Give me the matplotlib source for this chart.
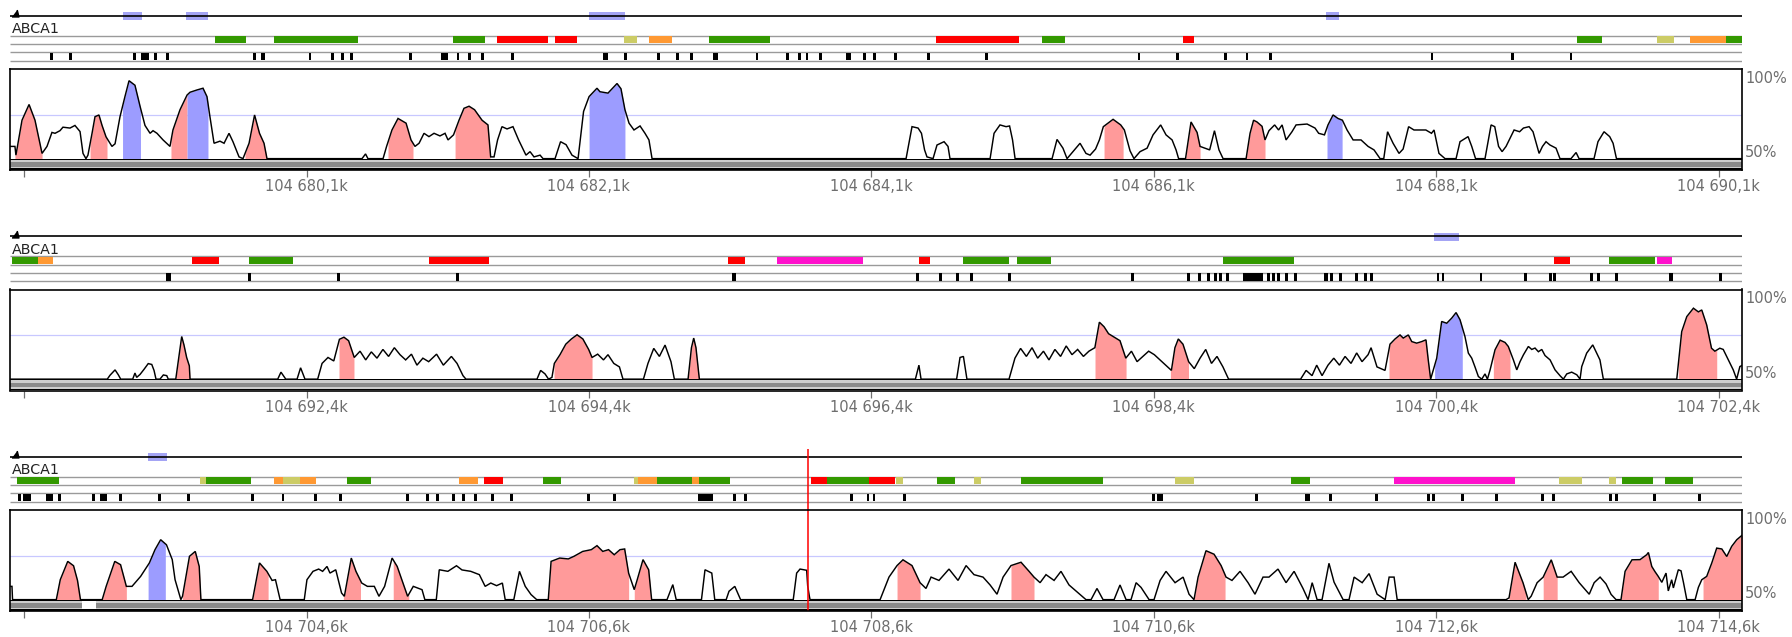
import numpy as np
import matplotlib
matplotlib.use("Agg")
import matplotlib.pyplot as plt
import matplotlib.transforms as mtransforms
from matplotlib.patches import Rectangle

plt.rcParams['font.family'] = ['DejaVu Sans']

FIG_W, FIG_H, DPI = 1792, 637, 100

# ---------------------------------------------------------------- data
gene_name = "ABCA1"
window_starts = [678.0, 690.3, 702.5]      # kb on chr (104 Mb prefix in labels)
window_span = 12.266
tick_starts = [678.1, 690.4, 702.6]
tick_step = 2.0
n_ticks = 7

# conservation profiles (position kb, % identity)
p1_profile = [
    (678.000, 57), (678.035, 57), (678.042, 52), (678.085, 72), (678.135, 81), (678.177, 72),
    (678.227, 53), (678.262, 57), (678.297, 65), (678.319, 64.5), (678.354, 66), (678.375, 68),
    (678.425, 67.5), (678.460, 69), (678.496, 65.5), (678.517, 53), (678.538, 50), (678.552, 52),
    (678.581, 64.5), (678.602, 74), (678.630, 75), (678.652, 69), (678.680, 62.5), (678.722, 57),
    (678.744, 58.5), (678.779, 74), (678.814, 85.5), (678.843, 94.6), (678.885, 92), (678.921, 80),
    (678.956, 69), (678.992, 64.5), (679.013, 66), (679.041, 64.5), (679.084, 60.7), (679.133, 57),
    (679.154, 66.4), (679.204, 78), (679.254, 86.4), (679.275, 88), (679.324, 89.3), (679.367, 90.3),
    (679.395, 85.5), (679.416, 74), (679.445, 58.8), (679.487, 60), (679.516, 58.8), (679.551, 64.5),
    (679.579, 59.7), (679.622, 51), (679.650, 50), (679.693, 58.8), (679.732, 75), (679.767, 64.5),
    (679.799, 58.8), (679.820, 50),
    (680.493, 50), (680.518, 52.7), (680.535, 50), (680.642, 50), (680.667, 57), (680.705, 66.4),
    (680.748, 73), (680.805, 70.3), (680.840, 60.7), (680.868, 57), (680.897, 58.8), (680.932, 64.5),
    (680.967, 62.6), (681.003, 64.5), (681.045, 63), (681.081, 64.5), (681.102, 60.7), (681.141, 63.6),
    (681.180, 72), (681.215, 78.8), (681.251, 80), (681.290, 78), (681.343, 72), (681.385, 69.3),
    (681.404, 51), (681.428, 51), (681.453, 60.7), (681.484, 68.3), (681.520, 67), (681.562, 68.3),
    (681.602, 60.7), (681.654, 52), (681.683, 54), (681.711, 51), (681.754, 52), (681.775, 50),
    (681.860, 50), (681.899, 59.7), (681.938, 58), (681.980, 52), (682.023, 50), (682.062, 77),
    (682.101, 85.5), (682.157, 90.3), (682.178, 88.3), (682.235, 87.5), (682.299, 93), (682.327, 90),
    (682.355, 78), (682.384, 70.3), (682.419, 66.4), (682.462, 68.7), (682.497, 64.5), (682.525, 60.7),
    (682.547, 50),
    (684.346, 50), (684.388, 68.3), (684.431, 67.5), (684.455, 64.5), (684.477, 55), (684.494, 51),
    (684.537, 50), (684.565, 57.8), (684.615, 59.7), (684.643, 57), (684.657, 50),
    (684.941, 50), (684.969, 64.5), (685.011, 69.3), (685.054, 68.3), (685.079, 68.7), (685.100, 60.7),
    (685.118, 50),
    (685.380, 50), (685.415, 61), (685.457, 56), (685.486, 50), (685.514, 52.7), (685.578, 58.8),
    (685.620, 53), (685.649, 52), (685.688, 55.5), (685.715, 60.7), (685.743, 68.3), (685.812, 72.5),
    (685.866, 69.3), (685.892, 66.4), (685.932, 54.5), (685.960, 50), (686.003, 54), (686.053, 56),
    (686.095, 63.6), (686.149, 69.3), (686.187, 63.6), (686.230, 60.7), (686.258, 55), (686.276, 50),
    (686.325, 50), (686.364, 71), (686.407, 65), (686.428, 57), (686.496, 55), (686.530, 66),
    (686.562, 55), (686.591, 50),
    (686.754, 50), (686.782, 64.5), (686.807, 72), (686.831, 71), (686.867, 68.5), (686.888, 60.7),
    (686.916, 66), (686.956, 69.3), (686.984, 66.4), (687.009, 69.3), (687.037, 60.7), (687.079, 65.4),
    (687.108, 69.3), (687.186, 69.8), (687.242, 67.5), (687.268, 64.5), (687.309, 63.6), (687.334, 69.3),
    (687.370, 75), (687.405, 73), (687.436, 72), (687.469, 66.4), (687.512, 60.7), (687.568, 60.7),
    (687.618, 57), (687.660, 55), (687.703, 50), (687.729, 50), (687.756, 65.4), (687.795, 58.8),
    (687.837, 53), (687.866, 55.5), (687.905, 68.3), (687.943, 66.4), (688.027, 66.4), (688.067, 64.5),
    (688.085, 66.4), (688.120, 53), (688.163, 50),
    (688.241, 50), (688.269, 59.7), (688.326, 62.6), (688.352, 57), (688.379, 50),
    (688.446, 50), (688.489, 69.3), (688.515, 68.3), (688.542, 57), (688.567, 54), (688.595, 57),
    (688.652, 66.4), (688.691, 65.4), (688.718, 67.5), (688.758, 68.3), (688.786, 65.4), (688.829, 53),
    (688.853, 57), (688.878, 59.7), (688.906, 57.8), (688.949, 56), (688.977, 50),
    (689.055, 50), (689.091, 53.5), (689.112, 50), (689.218, 50), (689.246, 59.7), (689.289, 65.4),
    (689.329, 62.6), (689.353, 58.8), (689.377, 50), (690.270, 50),
]

p2_profile = [
    (690.300, 50), (690.989, 50), (691.008, 52.2), (691.044, 55.3), (691.067, 52.5), (691.084, 50),
    (691.169, 50), (691.185, 53.5), (691.197, 51), (691.221, 52.7), (691.249, 55.6), (691.279, 58.9),
    (691.304, 58.4), (691.320, 55), (691.334, 50),
    (691.362, 50), (691.386, 52.4), (691.410, 52), (691.421, 50),
    (691.474, 50), (691.492, 60.6), (691.516, 74.4), (691.532, 69.6), (691.551, 62.4), (691.570, 57.6),
    (691.575, 50),
    (692.196, 50), (692.219, 54), (692.253, 50),
    (692.333, 50), (692.358, 56.5), (692.389, 50),
    (692.479, 50), (692.510, 59), (692.552, 62.4), (692.593, 60.4), (692.633, 72.8), (692.665, 74),
    (692.698, 72), (692.738, 62.4), (692.779, 66), (692.819, 61), (692.859, 65.6), (692.899, 62),
    (692.941, 67), (692.981, 63), (693.022, 68), (693.062, 64), (693.102, 61), (693.143, 64.3),
    (693.182, 58), (693.224, 62), (693.265, 60), (693.321, 64.3), (693.369, 58), (693.426, 63),
    (693.466, 59), (693.508, 52), (693.529, 50),
    (694.032, 50), (694.058, 55), (694.089, 53), (694.114, 50), (694.138, 51), (694.155, 59),
    (694.195, 64), (694.236, 70), (694.276, 73), (694.316, 75.4), (694.357, 73), (694.398, 67),
    (694.422, 62.4), (694.462, 64.3), (694.503, 61), (694.535, 64), (694.576, 59), (694.616, 57),
    (694.641, 50),
    (694.786, 50), (694.818, 59), (694.859, 67.6), (694.899, 63), (694.939, 69.5), (694.981, 60),
    (695.005, 50),
    (695.102, 50), (695.126, 68), (695.142, 73.5), (695.158, 68), (695.182, 50),
    (696.712, 50), (696.737, 58), (696.752, 50),
    (697.004, 50), (697.028, 62.4), (697.052, 63), (697.077, 50),
    (697.375, 50), (697.417, 62), (697.457, 67.6), (697.498, 63), (697.538, 68), (697.578, 62),
    (697.619, 66), (697.658, 61), (697.700, 67), (697.740, 63), (697.780, 69), (697.821, 64),
    (697.861, 67), (697.902, 63), (697.941, 66), (697.983, 68), (698.015, 82.6), (698.048, 80),
    (698.080, 76), (698.121, 74), (698.161, 72), (698.202, 62), (698.242, 66), (698.282, 60),
    (698.323, 63), (698.364, 66), (698.404, 64), (698.444, 61), (698.485, 58), (698.525, 55),
    (698.550, 68), (698.574, 73), (698.607, 70), (698.647, 60), (698.687, 56), (698.728, 62),
    (698.768, 67), (698.809, 59), (698.848, 63), (698.890, 57), (698.930, 50),
    (699.440, 50), (699.479, 55), (699.521, 52), (699.554, 58), (699.592, 52), (699.634, 58),
    (699.675, 62), (699.715, 58), (699.755, 63), (699.797, 59), (699.837, 65), (699.875, 60),
    (699.918, 64), (699.939, 68), (699.981, 57), (700.038, 55), (700.073, 70), (700.109, 73),
    (700.144, 75.3), (700.167, 73.5), (700.203, 75.3), (700.227, 71.5), (700.262, 70.6),
    (700.298, 71.5), (700.328, 72.5), (700.344, 61), (700.361, 50), (700.380, 55.3), (700.404, 62),
    (700.439, 83), (700.475, 82), (700.510, 84.9), (700.541, 88.1), (700.569, 84), (700.604, 74.4),
    (700.628, 64.9), (700.652, 62), (700.675, 57), (700.699, 51.5), (700.723, 50), (700.746, 53),
    (700.763, 50), (700.782, 55.3), (700.817, 66.8), (700.853, 72.3), (700.888, 71), (700.911, 68.7),
    (700.947, 61), (700.971, 55.3), (700.994, 60), (701.018, 63.9), (701.053, 68.7), (701.077, 67),
    (701.100, 67.8), (701.124, 65.7), (701.148, 67), (701.171, 63.5), (701.207, 61), (701.242, 55.3),
    (701.278, 51.9), (701.301, 50), (701.325, 53), (701.360, 54), (701.396, 52.5), (701.419, 50),
    (701.431, 57.2), (701.466, 64.9), (701.509, 69.6), (701.537, 64.9), (701.560, 61), (701.584, 50),
    (702.104, 50), (702.139, 77.2), (702.175, 85.8), (702.222, 90.6), (702.257, 88.5), (702.281, 89.6),
    (702.316, 81), (702.350, 67.7), (702.374, 66), (702.409, 67.7), (702.433, 67), (702.469, 61),
    (702.504, 55.3), (702.528, 50), (702.551, 57.2), (702.570, 58),
]

p3_profile = [
    (702.502, 57.6), (702.514, 57.6), (702.518, 50), (702.828, 50), (702.856, 61.4), (702.909, 71.9),
    (702.950, 69.4), (702.978, 61), (702.999, 50),
    (703.153, 50), (703.181, 57.6), (703.242, 71.9), (703.283, 70), (703.324, 57.6), (703.364, 57.6),
    (703.425, 63.3), (703.487, 71), (703.527, 78.6), (703.567, 84.3), (703.608, 81.4), (703.649, 72.9),
    (703.669, 61.4), (703.710, 50), (703.722, 52), (703.771, 74.8), (703.812, 77.6), (703.840, 69),
    (703.852, 50),
    (704.218, 50), (704.267, 71), (704.319, 66.2), (704.356, 61), (704.380, 61.4), (704.413, 50),
    (704.584, 50), (704.603, 61.4), (704.646, 66.2), (704.686, 67.5), (704.714, 66.2), (704.745, 69),
    (704.766, 65.2), (704.807, 67.1), (704.848, 53.8), (704.868, 51.9), (704.917, 73.8), (704.950, 66.2),
    (704.991, 59.5), (705.031, 57.6), (705.080, 57.6), (705.113, 51.9), (705.153, 57.6), (705.206, 73.8),
    (705.242, 69), (705.275, 61.4), (705.316, 51.9), (705.356, 57.6), (705.418, 55.7), (705.438, 50),
    (705.519, 50), (705.540, 67.1), (705.601, 66.2), (705.662, 69.4), (705.701, 67), (705.763, 66.2),
    (705.824, 64.3), (705.865, 57.6), (705.905, 59.5), (705.946, 58), (705.987, 59.5), (706.007, 50),
    (706.068, 50), (706.108, 66.2), (706.149, 57.6), (706.190, 52.9), (706.230, 50),
    (706.312, 50), (706.332, 71.9), (706.393, 73.8), (706.454, 73.3), (706.494, 74.8), (706.556, 77.6),
    (706.617, 78.6), (706.657, 80.9), (706.698, 77.6), (706.739, 78.6), (706.779, 75.7), (706.820, 78.6),
    (706.853, 79), (706.881, 65.2), (706.921, 55.7), (706.942, 61.4), (706.983, 72.9), (707.023, 67.1),
    (707.044, 50),
    (707.153, 50), (707.194, 58.6), (707.218, 50),
    (707.397, 50), (707.422, 67.1), (707.470, 65.2), (707.491, 50),
    (707.572, 50), (707.592, 54.8), (707.633, 57.6), (707.674, 50),
    (708.047, 50), (708.071, 65.2), (708.095, 67.5), (708.142, 66.8), (708.149, 58), (708.161, 52),
    (708.166, 50),
    (708.662, 50), (708.725, 62.9), (708.782, 69.5), (708.824, 72.8), (708.888, 69.5), (708.945, 59.7),
    (708.987, 56.4), (709.023, 62.9), (709.079, 61), (709.150, 67.5), (709.214, 61), (709.271, 69.5),
    (709.327, 64.3), (709.391, 62.9), (709.441, 58.4), (709.490, 53.1), (709.533, 62.9), (709.589, 69.5),
    (709.660, 71.4), (709.717, 66.2), (709.752, 62.9), (709.795, 59.7), (709.837, 64.3), (709.894, 61),
    (709.943, 66.2), (710.000, 58.4), (710.057, 54.4), (710.120, 50), (710.156, 50), (710.198, 56.4),
    (710.241, 50), (710.319, 50), (710.361, 58.4), (710.404, 50), (710.439, 50), (710.475, 59.7),
    (710.510, 57), (710.567, 50), (710.602, 50), (710.645, 61), (710.687, 66.2), (710.751, 59.7),
    (710.808, 62.9), (710.850, 53.1), (710.885, 50), (710.914, 62.9), (710.970, 78), (711.027, 76),
    (711.077, 69.5), (711.112, 62.9), (711.154, 61), (711.211, 66.2), (711.268, 59.7), (711.317, 53.1),
    (711.374, 62.9), (711.416, 62.9), (711.480, 67.5), (711.537, 59.7), (711.594, 66.2), (711.657, 56.4),
    (711.693, 50), (711.722, 59.7), (711.757, 50), (711.792, 50), (711.841, 70.8), (711.877, 60),
    (711.913, 54.4), (711.941, 50), (711.983, 50), (712.019, 62.9), (712.076, 59.7), (712.125, 64.9),
    (712.182, 53.1), (712.239, 50), (712.267, 62.9), (712.302, 62.9), (712.324, 50),
    (713.095, 50), (713.116, 51), (713.159, 71.4), (713.215, 59.7), (713.252, 50), (713.273, 52),
    (713.315, 59.7), (713.358, 62.9), (713.415, 72.8), (713.457, 62.9), (713.499, 62.9), (713.556, 66.2),
    (713.613, 59.7), (713.684, 53.1), (713.719, 59.7), (713.761, 62.9), (713.803, 59), (713.839, 53),
    (713.874, 50), (713.909, 50), (713.938, 66.2), (713.987, 72.8), (714.044, 72.9), (714.091, 75.7),
    (714.103, 77), (714.127, 69), (714.150, 66), (714.173, 63.3), (714.198, 59.9), (714.228, 65.2),
    (714.244, 55), (714.268, 61.4), (714.280, 56.7), (714.315, 67.1), (714.334, 66.5), (714.351, 60),
    (714.375, 50), (714.434, 50), (714.457, 57), (714.481, 61.4), (714.516, 63.3), (714.552, 71),
    (714.587, 79.5), (714.623, 79), (714.658, 74.7), (714.693, 80.5), (714.729, 84.3), (714.770, 87.1),
]

# conserved non-coding (pink) and coding (blue) segments
cns_regions = [
    (678.035, 678.227), (678.567, 678.687), (679.140, 679.254), (679.664, 679.820), (680.677, 680.854),
    (681.152, 681.399), (685.748, 685.883), (686.314, 686.428), (686.754, 686.888),
    (691.474, 691.575), (692.630, 692.736), (694.153, 694.422), (695.102, 695.182), (697.984, 698.204),
    (698.518, 698.646), (700.066, 700.361), (700.805, 700.923), (702.115, 702.387),
    (702.828, 702.999), (703.153, 703.324), (703.722, 703.852), (704.218, 704.328), (704.861, 704.982),
    (705.214, 705.324), (706.312, 706.881), (706.921, 707.035), (708.782, 708.945), (709.589, 709.752),
    (710.885, 711.105), (713.116, 713.236), (713.358, 713.457), (713.909, 714.173), (714.490, 714.770),
]
coding_regions = [
    (678.797, 678.924), (679.254, 679.402), (682.101, 682.355), (687.327, 687.434),
    (700.389, 700.585), (703.478, 703.600),
]

# exons on the gene model line
gene_exons = [
    (678.800, 678.935), (679.249, 679.401), (682.101, 682.355), (687.317, 687.409),
    (700.382, 700.559), (703.479, 703.610),
]

# regulatory annotation boxes: (start, end, class)
feature_boxes = [
    (679.455, 679.669, 'g'), (679.867, 680.463, 'g'), (681.135, 681.363, 'g'), (681.447, 681.813, 'r'),
    (681.859, 682.016, 'r'), (682.349, 682.441, 'y'), (682.526, 682.689, 'o'), (682.950, 683.385, 'g'),
    (684.558, 685.144, 'r'), (685.309, 685.472, 'g'), (686.304, 686.385, 'r'), (689.098, 689.275, 'g'),
    (689.667, 689.787, 'y'), (689.898, 690.153, 'o'), (690.153, 690.263, 'g'),
    (690.312, 690.500, 'g'), (690.500, 690.607, 'o'), (691.589, 691.780, 'r'), (691.993, 692.301, 'g'),
    (693.265, 693.692, 'r'), (695.385, 695.505, 'r'), (695.732, 696.341, 'm'), (696.738, 696.816, 'r'),
    (697.049, 697.375, 'g'), (697.432, 697.673, 'g'), (698.891, 699.394, 'g'), (701.235, 701.348, 'r'),
    (701.624, 701.950, 'g'), (701.964, 702.071, 'm'),
    (702.551, 702.848, 'g'), (703.844, 703.885, 'y'), (703.885, 704.210, 'g'), (704.368, 704.433, 'o'),
    (704.433, 704.552, 'y'), (704.552, 704.665, 'o'), (704.889, 705.060, 'g'), (705.681, 705.812, 'o'),
    (705.857, 705.991, 'r'), (706.275, 706.402, 'g'), (706.921, 706.950, 'y'), (706.950, 707.084, 'o'),
    (707.084, 707.328, 'g'), (707.328, 707.381, 'o'), (707.381, 707.601, 'g'), (708.174, 708.283, 'r'),
    (708.283, 708.581, 'g'), (708.581, 708.771, 'r'), (708.775, 708.824, 'y'), (709.065, 709.193, 'g'),
    (709.327, 709.377, 'y'), (709.657, 710.241, 'g'), (710.751, 710.885, 'y'), (711.572, 711.707, 'g'),
    (712.302, 713.159, 'm'), (713.470, 713.633, 'y'), (713.824, 713.874, 'y'), (713.916, 714.136, 'g'),
    (714.221, 714.421, 'g'),
]

# repeat elements (start, end)
repeat_marks = [
    (678.283, 678.307), (678.420, 678.441), (678.869, 678.892), (678.928, 678.984), (679.020, 679.039),
    (679.103, 679.126), (679.718, 679.739), (679.780, 679.804), (680.114, 680.132), (680.276, 680.298),
    (680.347, 680.368), (680.409, 680.431), (680.824, 680.846), (681.054, 681.101), (681.163, 681.181),
    (681.244, 681.263), (681.339, 681.358), (681.547, 681.567), (682.200, 682.233), (682.348, 682.368),
    (682.579, 682.601), (682.720, 682.739), (682.816, 682.834), (682.981, 683.011), (683.282, 683.300),
    (683.499, 683.517), (683.580, 683.599), (683.634, 683.653), (683.729, 683.748), (683.921, 683.956),
    (684.043, 684.062), (684.111, 684.130), (684.263, 684.282), (684.496, 684.515), (684.905, 684.924),
    (685.987, 686.006), (686.258, 686.276), (686.601, 686.620), (686.750, 686.769), (686.916, 686.935),
    (688.062, 688.081), (688.630, 688.650), (689.046, 689.065),
    (691.403, 691.438), (691.986, 692.007), (692.616, 692.637), (693.459, 693.480), (695.413, 695.441),
    (696.717, 696.738), (696.879, 696.900), (696.999, 697.021), (697.099, 697.120), (697.368, 697.389),
    (698.239, 698.260), (698.636, 698.657), (698.714, 698.735), (698.778, 698.799), (698.827, 698.848),
    (698.862, 698.883), (698.912, 698.933), (699.032, 699.174), (699.202, 699.224), (699.238, 699.259),
    (699.273, 699.294), (699.330, 699.351), (699.394, 699.415), (699.606, 699.634), (699.648, 699.670),
    (699.712, 699.733), (699.825, 699.846), (699.889, 699.910), (699.932, 699.953), (700.404, 700.423),
    (700.439, 700.456), (700.711, 700.727), (701.023, 701.042), (701.202, 701.219), (701.230, 701.249),
    (701.490, 701.509), (701.541, 701.560), (701.667, 701.686), (702.051, 702.075), (702.406, 702.425),
    (702.559, 702.578), (702.590, 702.647), (702.753, 702.802), (702.838, 702.859), (703.083, 703.102),
    (703.137, 703.189), (703.274, 703.295), (703.546, 703.567), (703.751, 703.773), (704.207, 704.228),
    (704.423, 704.444), (704.653, 704.674), (704.830, 704.851), (705.305, 705.326), (705.446, 705.468),
    (705.517, 705.538), (705.630, 705.652), (705.701, 705.722), (705.786, 705.807), (705.907, 705.928),
    (706.041, 706.063), (706.586, 706.608), (706.768, 706.790), (707.369, 707.482), (707.620, 707.642),
    (707.695, 707.716), (708.449, 708.468), (708.567, 708.586), (708.610, 708.628), (708.824, 708.845),
    (710.588, 710.609), (710.623, 710.666), (711.317, 711.339), (711.671, 711.707), (711.841, 711.862),
    (712.167, 712.189), (712.535, 712.557), (712.571, 712.592), (712.776, 712.798), (713.017, 713.039),
    (713.343, 713.364), (713.421, 713.443), (713.824, 713.846), (713.867, 713.888), (714.138, 714.157),
    (714.453, 714.474),
]

# unaligned stretch in the sequence bar
coverage_gaps = [(703.008, 703.109)]
cursor_kb = 708.154

# ---------------------------------------------------------------- style
feature_colors = {'g': '#339900', 'r': '#ff0000', 'y': '#cccc66', 'o': '#ff9933', 'm': '#ff11cc'}
CNS_COLOR = '#ff9a9a'
CODING_COLOR = '#9c9cff'
GENE_EXON_COLOR = '#a4a4f4'
TRACK_LINE = '#9a9a9a'
LABEL_GRAY = '#6e6e6e'

PANEL_OFFSETS = [0.0, 220.5, 441.0]
X0, X1 = 10, 1742


def rect(x0, y0, x1, y1):
    return [x0 / FIG_W, 1 - y1 / FIG_H, (x1 - x0) / FIG_W, (y1 - y0) / FIG_H]


def owner(mid):
    idx = 0
    for i, s in enumerate(window_starts):
        if mid >= s:
            idx = i
    return idx


fig = plt.figure(figsize=(FIG_W / DPI, FIG_H / DPI), dpi=DPI)
profiles = [p1_profile, p2_profile, p3_profile]

strand_marker = [(-1.0, -1.0), (1.0, -1.0), (0.5, 1.0)]

for i, (start, profile) in enumerate(zip(window_starts, profiles)):
    off = PANEL_OFFSETS[i]
    lo, hi = start, start + window_span

    # ---- annotation tracks (gene model, regulatory features, repeats)
    at = fig.add_axes(rect(X0, 8 + off, X1, 69 + off))
    at.set_xlim(lo, hi)
    at.set_ylim(69, 8)
    at.axis('off')

    at.plot([lo, hi], [15.7, 15.7], color='black', lw=1.2, solid_capstyle='butt', zorder=3)
    shift = mtransforms.offset_copy(at.transData, fig=fig, x=4.5, y=0, units='dots')
    at.plot([lo], [13.2], marker=strand_marker, ms=5.0, color='black', transform=shift,
            zorder=4, clip_on=False)
    for a, b in gene_exons:
        if owner((a + b) / 2) == i:
            at.add_patch(Rectangle((a, 12.3), b - a, 7.7, color=GENE_EXON_COLOR, lw=0, zorder=2))

    tshift = mtransforms.offset_copy(at.transData, fig=fig, x=2, y=0, units='dots')
    at.text(lo, 33.2, gene_name, transform=tshift, ha='left', va='baseline',
            fontsize=10.3, color='#222222')

    for yy in (35.7, 44.0, 52.3, 60.7):
        at.plot([lo, hi], [yy, yy], color=TRACK_LINE, lw=1.0, solid_capstyle='butt', zorder=1)
    for a, b, k in feature_boxes:
        if owner((a + b) / 2) == i:
            at.add_patch(Rectangle((a, 36.4), b - a, 7.0, color=feature_colors[k], lw=0, zorder=2))
    for a, b in repeat_marks:
        if owner((a + b) / 2) == i:
            at.add_patch(Rectangle((a, 52.9), b - a, 7.2, color='black', lw=0, zorder=2))

    if lo <= cursor_kb <= hi:
        at.axvline(cursor_kb, color='#ff0000', lw=1.1, zorder=5)

    # ---- conservation plot
    ax = fig.add_axes(rect(X0, 69 + off, X1, 170 + off))
    ax.set_xlim(lo, hi)
    ax.set_ylim(43.5, 101.3)
    pos = np.array([p for p, _ in profile])
    pct = np.array([v for _, v in profile])

    ax.axhline(75, color='#c8c8ff', lw=0.9, zorder=1)

    def fill_regions(regions, color):
        for a, b in regions:
            if owner((a + b) / 2) != i:
                continue
            inner = pos[(pos > a) & (pos < b)]
            xs = np.concatenate([[a], inner, [b]])
            ys = np.interp(xs, pos, pct)
            ax.fill_between(xs, 50, ys, color=color, lw=0, zorder=2)

    fill_regions(cns_regions, CNS_COLOR)
    fill_regions(coding_regions, CODING_COLOR)

    ax.plot(pos, pct, color='black', lw=1.05, zorder=4, solid_joinstyle='miter')

    # sequence coverage bar under the baseline
    ax.axhspan(49.26, 50.05, color='black', lw=0, zorder=3)
    ax.axhspan(47.94, 49.26, color='#cdcdcd', lw=0, zorder=3)
    ax.axhspan(45.42, 47.94, color='#8a8a8a', lw=0, zorder=3)
    ax.axhspan(44.51, 45.42, color='#cdcdcd', lw=0, zorder=3)
    ax.axhspan(43.5, 44.51, color='black', lw=0, zorder=3)
    for a, b in coverage_gaps:
        if owner((a + b) / 2) == i:
            ax.add_patch(Rectangle((a, 44.7), b - a, 4.4, color='white', lw=0, zorder=3.5))

    if lo <= cursor_kb <= hi:
        ax.axvline(cursor_kb, color='#ff0000', lw=1.1, zorder=6)

    ticks = [tick_starts[i] + tick_step * k for k in range(n_ticks)]
    labels = [''] + [("104 %.1f" % t).replace('.', ',') + 'k' for t in ticks[1:]]
    ax.set_xticks(ticks)
    ax.set_xticklabels(labels)
    ax.set_yticks([])
    ax.tick_params(axis='x', length=5, width=0.9, color='#707070', labelsize=10.5,
                   labelcolor=LABEL_GRAY, pad=1.5)
    for s in ax.spines.values():
        s.set_linewidth(1.2)
        s.set_color('black')
        s.set_zorder(7)

    ytr = ax.get_yaxis_transform()
    ax.text(1.0018, 93.5, '100%', transform=ytr, ha='left', va='baseline',
            fontsize=10.5, color=LABEL_GRAY, clip_on=False)
    ax.text(1.0018, 50.8, '50%', transform=ytr, ha='left', va='baseline',
            fontsize=10.5, color=LABEL_GRAY, clip_on=False)

fig.savefig('out.png', dpi=DPI, facecolor='white')
